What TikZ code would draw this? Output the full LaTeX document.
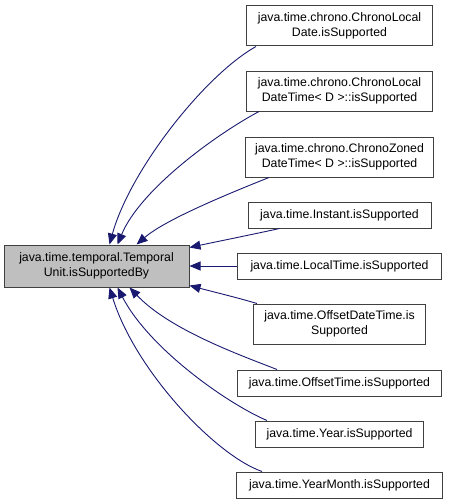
\documentclass[tikz,border=0pt]{standalone}
\usepackage{fontspec}
\setmainfont{Liberation Sans}
\usetikzlibrary{arrows.meta}
\definecolor{edgeblue}{HTML}{191970}
\definecolor{boxline}{HTML}{404040}
\definecolor{curfill}{HTML}{BFBFBF}
\tikzset{
  box/.style={draw=boxline, line width=1pt, fill=white, align=center, inner sep=0pt,
    font=\fontsize{12.3}{15}\selectfont, text=black},
  twoline/.style={box, minimum height=40pt},
  oneline/.style={box, minimum height=26pt},
  edge/.style={draw=edgeblue, line width=0.9pt, -{Triangle[length=11pt,width=9pt]}}
}
\begin{document}
\begin{tikzpicture}[x=1pt,y=-1pt]
\useasboundingbox (0,0) rectangle (456,503);
\node[twoline, fill=curfill, minimum width=185pt, minimum height=42pt] (L) at (96.5,266) {java.time.temporal.Temporal\\Unit.isSupportedBy};
\node[twoline, minimum width=186pt] (r1) at (339.5,26) {java.time.chrono.ChronoLocal\\Date.isSupported};
\node[twoline, minimum width=186pt] (r2) at (339.5,91) {java.time.chrono.ChronoLocal\\DateTime< D >::isSupported};
\node[twoline, minimum width=188pt] (r3) at (339.5,157) {java.time.chrono.ChronoZoned\\DateTime< D >::isSupported};
\node[oneline, minimum width=183pt] (r4) at (339.5,215) {java.time.Instant.isSupported};
\node[oneline, minimum width=204pt] (r5) at (339.5,266) {java.time.LocalTime.isSupported};
\node[twoline, minimum width=172pt] (r6) at (339.5,324) {java.time.OffsetDateTime.is\\Supported};
\node[oneline, minimum width=204pt] (r7) at (339.5,383) {java.time.OffsetTime.isSupported};
\node[oneline, minimum width=168pt] (r8) at (339.5,434) {java.time.Year.isSupported};
\node[oneline, minimum width=206pt] (r9) at (339.5,485) {java.time.YearMonth.isSupported};
% edges
\draw[edge] ([xshift=10pt]r1.south west) .. controls (205,75) and (130,170) .. ([xshift=106pt]L.north west);
\draw[edge] ([xshift=13pt]r2.south west) .. controls (215,135) and (140,190) .. ([xshift=114pt]L.north west);
\draw[edge] ([xshift=24pt]r3.south west) .. controls (225,195) and (165,220) .. ([xshift=133pt]L.north west);
\draw[edge] ([xshift=32pt]r4.south west) .. controls (250,235) and (215,242) .. ([yshift=-3pt]L.north east);
\draw[edge] (r5.west) -- (L.east);
\draw[edge] ([xshift=4pt]r6.north west) .. controls (235,297) and (210,291) .. ([yshift=2pt]L.south east);
\draw[edge] ([xshift=40pt]r7.north west) .. controls (240,355) and (170,330) .. ([xshift=126pt]L.south west);
\draw[edge] ([xshift=12pt]r8.north west) .. controls (230,405) and (150,350) .. ([xshift=114pt]L.south west);
\draw[edge] ([xshift=26pt]r9.north west) .. controls (215,455) and (135,370) .. ([xshift=106pt]L.south west);
\end{tikzpicture}
\end{document}
